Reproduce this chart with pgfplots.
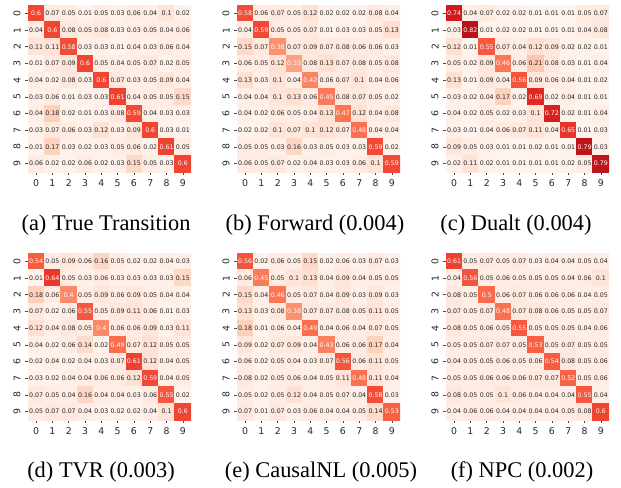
\documentclass[border=0pt]{standalone}
\usepackage{fontspec}
\setmainfont{DejaVu Sans}
\newfontfamily\capfont{Liberation Serif}
\usepackage{pgfplots}
\usepackage{pgfplotstable}
\pgfplotsset{compat=1.18}
\definecolor{annot}{HTML}{262626}

\pgfplotstableread[row sep=\\]{v\\
0.6\\0.07\\0.05\\0.01\\0.05\\0.03\\0.06\\0.04\\0.1\\0.02\\
0.04\\0.6\\0.08\\0.05\\0.08\\0.03\\0.03\\0.05\\0.04\\0.06\\
0.11\\0.11\\0.58\\0.03\\0.03\\0.01\\0.04\\0.03\\0.06\\0.04\\
0.01\\0.07\\0.09\\0.6\\0.05\\0.04\\0.05\\0.07\\0.02\\0.05\\
0.04\\0.02\\0.08\\0.03\\0.6\\0.07\\0.03\\0.05\\0.09\\0.04\\
0.03\\0.06\\0.01\\0.03\\0.03\\0.61\\0.04\\0.05\\0.05\\0.15\\
0.04\\0.18\\0.02\\0.01\\0.03\\0.08\\0.59\\0.04\\0.03\\0.03\\
0.03\\0.07\\0.06\\0.03\\0.12\\0.03\\0.09\\0.6\\0.03\\0.01\\
0.01\\0.17\\0.03\\0.02\\0.03\\0.05\\0.06\\0.02\\0.61\\0.05\\
0.06\\0.02\\0.02\\0.06\\0.02\\0.03\\0.15\\0.05\\0.03\\0.6\\
}\tabA

\pgfplotstableread[row sep=\\]{v\\
0.58\\0.06\\0.07\\0.05\\0.12\\0.02\\0.02\\0.02\\0.08\\0.04\\
0.04\\0.59\\0.05\\0.05\\0.07\\0.01\\0.03\\0.03\\0.05\\0.13\\
0.15\\0.07\\0.38\\0.07\\0.09\\0.07\\0.08\\0.06\\0.06\\0.03\\
0.06\\0.05\\0.12\\0.33\\0.08\\0.13\\0.07\\0.08\\0.05\\0.08\\
0.13\\0.03\\0.1\\0.04\\0.42\\0.06\\0.07\\0.1\\0.04\\0.06\\
0.04\\0.04\\0.1\\0.13\\0.06\\0.45\\0.08\\0.07\\0.05\\0.02\\
0.04\\0.02\\0.06\\0.05\\0.04\\0.13\\0.47\\0.12\\0.04\\0.08\\
0.02\\0.02\\0.1\\0.07\\0.1\\0.12\\0.07\\0.48\\0.04\\0.04\\
0.05\\0.05\\0.03\\0.16\\0.03\\0.05\\0.03\\0.03\\0.59\\0.02\\
0.06\\0.05\\0.07\\0.02\\0.04\\0.03\\0.03\\0.06\\0.1\\0.59\\
}\tabB

\pgfplotstableread[row sep=\\]{v\\
0.74\\0.04\\0.07\\0.02\\0.02\\0.01\\0.01\\0.01\\0.05\\0.07\\
0.03\\0.82\\0.01\\0.02\\0.02\\0.01\\0.01\\0.01\\0.04\\0.08\\
0.12\\0.01\\0.55\\0.07\\0.04\\0.12\\0.09\\0.02\\0.02\\0.01\\
0.05\\0.02\\0.09\\0.46\\0.06\\0.21\\0.08\\0.03\\0.01\\0.04\\
0.13\\0.01\\0.09\\0.04\\0.56\\0.09\\0.06\\0.04\\0.01\\0.02\\
0.03\\0.02\\0.04\\0.17\\0.02\\0.69\\0.02\\0.04\\0.01\\0.01\\
0.04\\0.02\\0.05\\0.02\\0.03\\0.1\\0.72\\0.02\\0.01\\0.04\\
0.03\\0.01\\0.04\\0.06\\0.07\\0.11\\0.04\\0.65\\0.01\\0.03\\
0.09\\0.05\\0.03\\0.01\\0.01\\0.02\\0.01\\0.01\\0.79\\0.03\\
0.02\\0.11\\0.02\\0.01\\0.01\\0.01\\0.01\\0.02\\0.05\\0.79\\
}\tabC

\pgfplotstableread[row sep=\\]{v\\
0.54\\0.05\\0.09\\0.06\\0.16\\0.05\\0.02\\0.02\\0.04\\0.03\\
0.01\\0.64\\0.05\\0.03\\0.06\\0.03\\0.03\\0.03\\0.03\\0.15\\
0.18\\0.06\\0.4\\0.05\\0.09\\0.06\\0.09\\0.05\\0.04\\0.04\\
0.07\\0.02\\0.06\\0.55\\0.05\\0.09\\0.11\\0.06\\0.01\\0.03\\
0.12\\0.04\\0.08\\0.05\\0.4\\0.06\\0.06\\0.09\\0.03\\0.11\\
0.04\\0.02\\0.06\\0.14\\0.02\\0.49\\0.07\\0.12\\0.05\\0.05\\
0.02\\0.04\\0.02\\0.04\\0.03\\0.07\\0.61\\0.12\\0.04\\0.05\\
0.03\\0.02\\0.04\\0.04\\0.06\\0.06\\0.12\\0.59\\0.04\\0.05\\
0.07\\0.05\\0.04\\0.16\\0.04\\0.04\\0.03\\0.06\\0.55\\0.02\\
0.05\\0.07\\0.07\\0.04\\0.03\\0.02\\0.02\\0.04\\0.1\\0.6\\
}\tabD

\pgfplotstableread[row sep=\\]{v\\
0.56\\0.02\\0.06\\0.05\\0.15\\0.02\\0.06\\0.03\\0.07\\0.03\\
0.06\\0.45\\0.05\\0.1\\0.13\\0.04\\0.09\\0.04\\0.05\\0.05\\
0.15\\0.04\\0.46\\0.05\\0.07\\0.04\\0.09\\0.03\\0.09\\0.03\\
0.13\\0.03\\0.08\\0.38\\0.07\\0.07\\0.08\\0.05\\0.11\\0.05\\
0.18\\0.01\\0.06\\0.04\\0.49\\0.04\\0.06\\0.04\\0.07\\0.05\\
0.09\\0.02\\0.07\\0.09\\0.04\\0.43\\0.06\\0.06\\0.17\\0.04\\
0.06\\0.02\\0.05\\0.04\\0.03\\0.07\\0.56\\0.06\\0.11\\0.05\\
0.08\\0.02\\0.05\\0.06\\0.04\\0.05\\0.11\\0.48\\0.11\\0.04\\
0.05\\0.02\\0.05\\0.12\\0.04\\0.05\\0.07\\0.04\\0.58\\0.03\\
0.07\\0.01\\0.07\\0.03\\0.06\\0.04\\0.04\\0.05\\0.14\\0.53\\
}\tabE

\pgfplotstableread[row sep=\\]{v\\
0.61\\0.05\\0.07\\0.05\\0.07\\0.03\\0.04\\0.04\\0.05\\0.04\\
0.04\\0.56\\0.05\\0.06\\0.05\\0.05\\0.05\\0.04\\0.06\\0.1\\
0.08\\0.05\\0.5\\0.06\\0.07\\0.06\\0.06\\0.06\\0.04\\0.05\\
0.07\\0.05\\0.07\\0.48\\0.07\\0.08\\0.06\\0.05\\0.05\\0.07\\
0.08\\0.05\\0.06\\0.05\\0.55\\0.05\\0.05\\0.05\\0.04\\0.06\\
0.05\\0.05\\0.07\\0.07\\0.05\\0.53\\0.05\\0.07\\0.05\\0.05\\
0.04\\0.05\\0.05\\0.06\\0.05\\0.06\\0.54\\0.08\\0.05\\0.06\\
0.05\\0.05\\0.06\\0.06\\0.06\\0.07\\0.07\\0.52\\0.05\\0.06\\
0.08\\0.05\\0.05\\0.1\\0.06\\0.04\\0.04\\0.04\\0.55\\0.04\\
0.04\\0.06\\0.06\\0.04\\0.04\\0.04\\0.04\\0.05\\0.08\\0.6\\
}\tabF

\pgfplotsset{
  colormap={reds}{rgb255=(255,245,240) rgb255=(254,224,210) rgb255=(252,187,161)
    rgb255=(252,146,114) rgb255=(251,106,74) rgb255=(239,59,44) rgb255=(203,24,29)
    rgb255=(165,15,21) rgb255=(103,0,13)},
  hm/.style={
    scale only axis, width=122.25pt, height=125.25pt, anchor=north west,
    xmin=-0.5, xmax=9.5, ymin=-0.5, ymax=9.5, enlargelimits=false,
    axis line style={draw=none},
    colormap name=reds, point meta min=0, point meta max=1,
    xtick={0,...,9}, ytick={0,...,9},
    yticklabels={9,8,7,6,5,4,3,2,1,0},
    xtick pos=left, ytick pos=left,
    tick align=outside, major tick length=2pt,
    tick style={black!70, line width=0.4pt},
    /pgf/number format/assume math mode=true,
    tick label style={font=\fontsize{7}{8}\selectfont, text=annot},
    yticklabel style={rotate=90, anchor=south},
  },
  hmplot/.style={matrix plot*, mesh/cols=10, point meta=explicit},
  lab/.style={draw=none, mark=none, point meta=explicit,
    nodes near coords={\pgfmathprintnumber[fixed,precision=2]{\pgfplotspointmeta}},
    every node near coord/.append style={font=\fontsize{4.7}{5}\selectfont, anchor=center, inner sep=0pt}},
}

\newcommand\heat[1]{%
\addplot[hmplot] table[x index=0, y index=0, x expr={mod(\coordindex,10)}, y expr={9-floor(\coordindex/10)}, meta=v] {#1};
\addplot[lab, every node near coord/.append style={text=annot}, restrict expr to domain={\thisrow{v}}{0:0.3}] table[x index=0, y index=0, x expr={mod(\coordindex,10)}, y expr={9-floor(\coordindex/10)}, meta=v] {#1};
\addplot[lab, every node near coord/.append style={text=white}, restrict expr to domain={\thisrow{v}}{0.3:1}] table[x index=0, y index=0, x expr={mod(\coordindex,10)}, y expr={9-floor(\coordindex/10)}, meta=v] {#1};
}

\begin{document}
\begin{tikzpicture}
\useasboundingbox (0pt,0pt) rectangle (465.75pt,-365.25pt);

\begin{axis}[hm, at={(21pt,-3.75pt)}]
\heat{\tabA}
\end{axis}
\begin{axis}[hm, at={(177.75pt,-3.75pt)}]
\heat{\tabB}
\end{axis}
\begin{axis}[hm, at={(334.5pt,-3.75pt)}]
\heat{\tabC}
\end{axis}
\begin{axis}[hm, at={(21pt,-189.75pt)}]
\heat{\tabD}
\end{axis}
\begin{axis}[hm, at={(177.75pt,-189.75pt)}]
\heat{\tabE}
\end{axis}
\begin{axis}[hm, at={(334.5pt,-189.75pt)}]
\heat{\tabF}
\end{axis}

\begin{scope}[every node/.style={font=\capfont\fontsize{16.8}{20}\selectfont, inner sep=0pt}]
\node at (79.5pt,-168.75pt) {(a) True Transition};
\node at (236.25pt,-168.75pt) {(b) Forward (0.004)};
\node at (387pt,-168.75pt) {(c) Dualt (0.004)};
\node at (75.75pt,-354pt) {(d) TVR (0.003)};
\node at (240.75pt,-354pt) {(e) CausalNL (0.005)};
\node at (391.5pt,-354pt) {(f) NPC (0.002)};
\end{scope}
\end{tikzpicture}
\end{document}
